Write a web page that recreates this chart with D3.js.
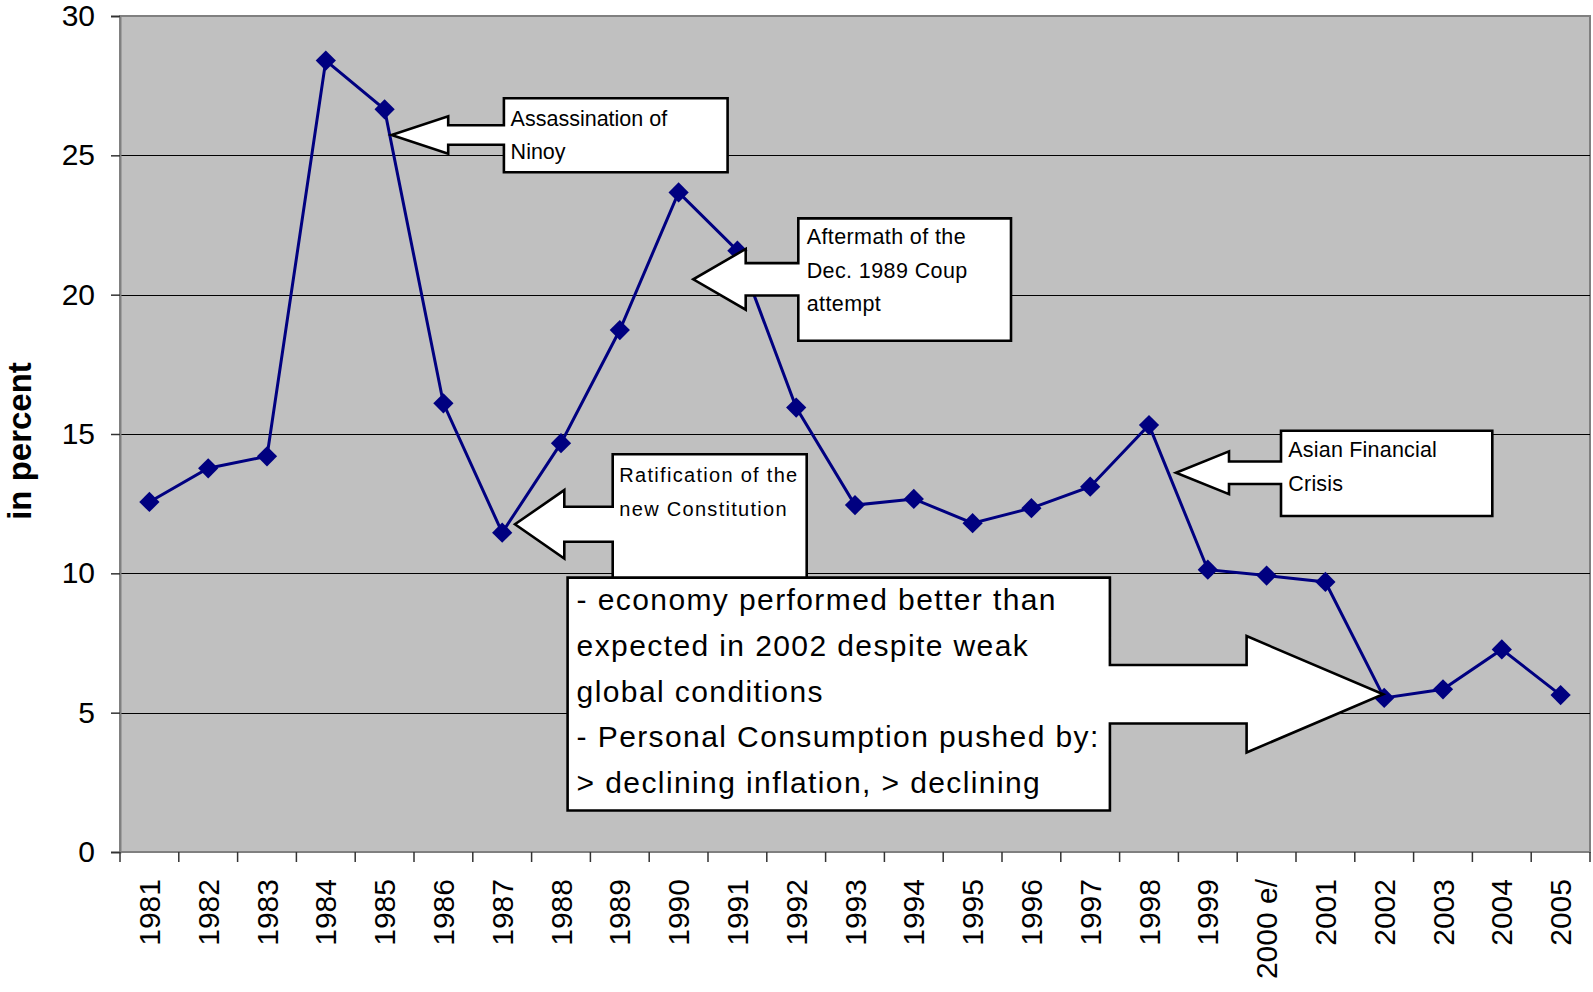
<!DOCTYPE html>
<html>
<head>
<meta charset="UTF-8">
<title>GDP growth chart</title>
<script src="https://d3js.org/d3.v7.min.js"></script>
<style>
    body { margin: 0; background: #fff; }
    text { font-family: Arial, "Liberation Sans", sans-serif; fill: #000; }
</style>
</head>
<body>
<script>
    // DATA
    var years = ["1981", "1982", "1983", "1984", "1985", "1986", "1987", "1988", "1989", "1990",
        "1991", "1992", "1993", "1994", "1995", "1996", "1997", "1998", "1999", "2000 e/",
        "2001", "2002", "2003", "2004", "2005"];
    var values = [12.56, 13.77, 14.20, 28.40, 26.65, 16.10, 11.46, 14.67, 18.73, 23.67,
        21.58, 15.95, 12.45, 12.67, 11.80, 12.34, 13.11, 15.32, 10.13, 9.92,
        9.69, 5.53, 5.84, 7.27, 5.63];
    var yTicks = [0, 5, 10, 15, 20, 25, 30];
    var yTitle = "in percent";

    // callout texts and where their arrows point (category, value)
    var noteLines = [
        ["Assassination of", "Ninoy"],
        ["Aftermath of the", "Dec. 1989 Coup", "attempt"],
        ["Ratification of the", "new Constitution"],
        ["Asian Financial", "Crisis"],
        ["- economy performed better than", "expected in 2002 despite weak", "global conditions",
         "- Personal Consumption pushed by:", "> declining inflation, > declining"]
    ];
    var noteYears = ["1985", "1990", "1987", "1998", "2002"];
    var noteValues = [25.73, 20.55, 11.76, 13.61, 5.66];

    // LAYOUT
    var W = 1593, H = 992;
    var plot = {left: 120, right: 1590, top: 16, bottom: 852};

    // callout shapes, in pixels relative to arrow tip
    var noteGeo = [
        {dx: 7,  head: 56.6,  hh: 18.7, sh: 9.8,  near: 112.3, far: 336,    top: -36.7, bot: 37.3,  font: 21.5, ls: 0,   lh: 33.6, padX: 6.7, padT: 27.4},
        {dx: 14.7, head: 52.4, hh: 30.4, sh: 16.2, near: 105,  far: 317.7,  top: -61,   bot: 61.4,  font: 21.5, ls: 0.4, lh: 33.5, padX: 8.4, padT: 26},
        {dx: 12.8, head: 49.3, hh: 34.2, sh: 17.5, near: 97.7, far: 291.7,  top: -70,   bot: 70,    font: 20,   ls: 1.3, lh: 34.3, padX: 6.6, padT: 27.4},
        {dx: 27,  head: 53,   hh: 21.4, sh: 11.2, near: 105,   far: 316.3,  top: -42,   bot: 43.3,  font: 21.5, ls: 0.2, lh: 33.4, padX: 7.3, padT: 26.6},
        {dx: -1,  head: -136.6, hh: 58.2, sh: 29.2, near: -273.3, far: -815.6, top: -116.6, bot: 116.2, font: 30, ls: 1.4, lh: 45.8, padX: 9, padT: 32.3}
    ];

    var svg = d3.select("body").append("svg")
        .attr("width", W)
        .attr("height", H)
        .style("display", "block");

    // SCALES
    var x = d3.scaleBand()
        .domain(years)
        .range([plot.left, plot.right])
        .padding(0);
    var y = d3.scaleLinear()
        .domain([0, 30])
        .range([plot.bottom, plot.top]);
    var cx = function (d) { return x(d) + x.bandwidth() / 2; };

    // PLOT AREA
    svg.append("rect")
        .attr("x", plot.left)
        .attr("y", plot.top)
        .attr("width", plot.right - plot.left)
        .attr("height", plot.bottom - plot.top)
        .attr("fill", "#c0c0c0")
        .attr("stroke", "#808080")
        .attr("stroke-width", 2);

    // GRIDLINES
    svg.append("g").selectAll("line")
        .data(yTicks.filter(function (t) { return t > 0 && t < 30; }))
        .join("line")
        .attr("x1", plot.left)
        .attr("x2", plot.right)
        .attr("y1", function (d) { return Math.round(y(d)) + 0.5; })
        .attr("y2", function (d) { return Math.round(y(d)) + 0.5; })
        .attr("stroke", "#000")
        .attr("stroke-width", 1);

    // Y AXIS
    var yAxis = d3.axisLeft(y)
        .tickValues(yTicks)
        .tickSize(9)
        .tickPadding(16)
        .tickFormat(d3.format("d"));
    var gy = svg.append("g")
        .attr("transform", "translate(" + plot.left + ",0)")
        .call(yAxis);
    gy.select(".domain").attr("stroke", "#808080").attr("stroke-width", 2);
    gy.selectAll(".tick line").attr("stroke", "#333").attr("stroke-width", 1.5);
    gy.selectAll(".tick text")
        .style("font-size", "30px")
        .style("font-family", "Arial, 'Liberation Sans', sans-serif");

    // X AXIS (ticks between categories)
    var edges = years.map(function (d) { return x(d); }).concat([plot.right]);
    svg.append("g").selectAll("line")
        .data(edges)
        .join("line")
        .attr("x1", function (d) { return d; })
        .attr("x2", function (d) { return d; })
        .attr("y1", plot.bottom)
        .attr("y2", plot.bottom + 10)
        .attr("stroke", "#333")
        .attr("stroke-width", 1.5);

    svg.append("g").selectAll("text")
        .data(years)
        .join("text")
        .attr("transform", function (d) { return "translate(" + cx(d) + "," + (plot.bottom + 27) + ") rotate(-90)"; })
        .attr("text-anchor", "end")
        .attr("dominant-baseline", "central")
        .style("font-size", "30px")
        .text(function (d) { return d; });

    // Y TITLE
    svg.append("text")
        .attr("transform", "translate(19,441) rotate(-90)")
        .attr("text-anchor", "middle")
        .attr("dominant-baseline", "central")
        .style("font-size", "33px")
        .style("font-weight", "bold")
        .text(yTitle);

    // LINE + MARKERS
    var line = d3.line()
        .x(function (d, i) { return cx(years[i]); })
        .y(function (d) { return y(d); });
    svg.append("path")
        .datum(values)
        .attr("d", line)
        .attr("fill", "none")
        .attr("stroke", "#000080")
        .attr("stroke-width", 3);

    var diamond = d3.symbol().type(d3.symbolSquare).size(205);
    svg.append("g").selectAll("path")
        .data(values)
        .join("path")
        .attr("d", diamond)
        .attr("transform", function (d, i) { return "translate(" + cx(years[i]) + "," + y(d) + ") rotate(45)"; })
        .attr("fill", "#000080");

    // CALLOUTS
    function callout(i) {
        var g = noteGeo[i];
        var tx = cx(noteYears[i]) + g.dx, ty = y(noteValues[i]);
        var p = d3.path();
        p.moveTo(g.near, g.top);
        p.lineTo(g.far, g.top);
        p.lineTo(g.far, g.bot);
        p.lineTo(g.near, g.bot);
        p.lineTo(g.near, g.sh);
        p.lineTo(g.head, g.sh);
        p.lineTo(g.head, g.hh);
        p.lineTo(0, 0);
        p.lineTo(g.head, -g.hh);
        p.lineTo(g.head, -g.sh);
        p.lineTo(g.near, -g.sh);
        p.closePath();

        var grp = svg.append("g").attr("transform", "translate(" + tx + "," + ty + ")");
        grp.append("path")
            .attr("d", p.toString())
            .attr("fill", "#fff")
            .attr("stroke", "#000")
            .attr("stroke-width", 2.6)
            .attr("stroke-linejoin", "miter");
        var left = Math.min(g.near, g.far);
        grp.append("g").selectAll("text")
            .data(noteLines[i])
            .join("text")
            .attr("x", left + g.padX)
            .attr("y", function (d, k) { return g.top + g.padT + k * g.lh; })
            .style("font-size", g.font + "px")
            .style("letter-spacing", g.ls + "px")
            .text(function (d) { return d; });
    }
    [0, 1, 2, 3, 4].forEach(callout);
</script>
</body>
</html>
